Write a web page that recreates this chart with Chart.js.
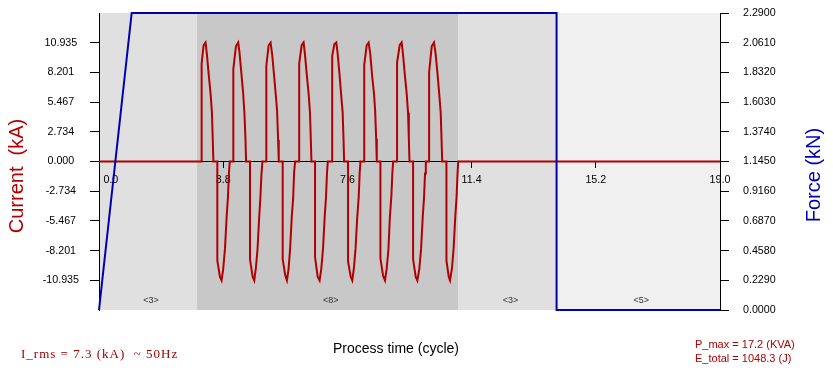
<!DOCTYPE html>
<html>
<head>
<meta charset="utf-8">
<script src="https://cdn.jsdelivr.net/npm/chart.js@4.4.1/dist/chart.umd.min.js"></script>
<style>
  html, body { margin: 0; padding: 0; background: #fff; }
</style>
</head>
<body>
<canvas id="weldChart" width="833" height="370"></canvas>
<script>
// Current trace: time in cycles, current in kA (one line per weld cycle)
const currentTime = [
  0,
  3.14, 3.14, 3.20, 3.26, 3.30, 3.36, 3.415, 3.455, 3.48, 3.50, 3.62, 3.62, 3.70, 3.75, 3.80, 3.855, 3.905, 3.945, 3.975, 4.00,
  4.11, 4.11, 4.19, 4.26, 4.30, 4.36, 4.41, 4.45, 4.48, 4.50, 4.62, 4.62, 4.70, 4.75, 4.80, 4.85, 4.90, 4.94, 4.97, 5.00,
  5.12, 5.12, 5.19, 5.25, 5.30, 5.36, 5.41, 5.45, 5.48, 5.50, 5.62, 5.62, 5.70, 5.75, 5.80, 5.85, 5.90, 5.94, 5.97, 6.00,
  6.125, 6.125, 6.20, 6.26, 6.30, 6.36, 6.415, 6.455, 6.48, 6.50, 6.61, 6.61, 6.69, 6.75, 6.80, 6.855, 6.905, 6.945, 6.975, 7.00,
  7.135, 7.135, 7.20, 7.26, 7.30, 7.36, 7.41, 7.455, 7.48, 7.50, 7.62, 7.62, 7.70, 7.75, 7.80, 7.85, 7.90, 7.945, 7.975, 8.00,
  8.115, 8.115, 8.19, 8.25, 8.30, 8.36, 8.415, 8.45, 8.48, 8.50, 8.61, 8.61, 8.69, 8.75, 8.80, 8.855, 8.90, 8.945, 8.975, 9.00,
  9.12, 9.12, 9.20, 9.26, 9.30, 9.36, 9.415, 9.455, 9.48, 9.50, 9.61, 9.61, 9.69, 9.74, 9.80, 9.855, 9.905, 9.945, 9.975, 10.00,
  10.10, 10.10, 10.18, 10.25, 10.30, 10.36, 10.41, 10.455, 10.48, 10.50, 10.63, 10.63, 10.70, 10.74, 10.80, 10.85, 10.90, 10.94, 10.97, 10.99,
  19.0
];
const currentKA = [
  0,
  0, 9.0, 10.7, 10.95, 9.9, 7.9, 6.2, 4.5, 2.1, 0, 0, -9.1, -10.6, -10.95, -9.9, -8.0, -5.1, -3.3, -1.1, 0,
  0, 8.5, 10.6, 10.95, 10.0, 8.0, 6.3, 4.4, 2.2, 0, 0, -9.0, -10.6, -10.95, -9.8, -8.1, -5.2, -3.2, -1.2, 0,
  0, 8.8, 10.7, 10.95, 9.8, 7.8, 6.1, 4.6, 2.0, 0, 0, -9.0, -10.5, -10.95, -9.9, -7.9, -5.0, -3.4, -1.0, 0,
  0, 9.0, 10.7, 10.95, 9.9, 7.9, 6.2, 4.5, 2.1, 0, 0, -8.8, -10.6, -10.95, -9.9, -8.0, -5.1, -3.3, -1.1, 0,
  0, 9.7, 10.8, 10.95, 10.0, 8.0, 6.1, 4.5, 2.2, 0, 0, -9.2, -10.6, -10.95, -9.8, -8.0, -5.2, -3.3, -1.1, 0,
  0, 8.9, 10.7, 10.95, 9.9, 7.8, 6.2, 4.6, 2.1, 0, 0, -8.9, -10.5, -10.95, -9.9, -8.1, -5.1, -3.2, -1.1, 0,
  0, 9.1, 10.7, 10.95, 9.9, 7.9, 6.2, 4.5, 2.1, 0, 0, -9.0, -10.6, -10.95, -9.9, -8.0, -5.1, -3.3, -1.1, 0,
  0, 8.2, 10.6, 10.95, 9.9, 8.0, 6.2, 4.5, 2.1, 0, 0, -9.1, -10.6, -10.95, -9.8, -8.0, -5.1, -3.3, -1.1, 0,
  0
];

// Electrode force: time in cycles, force in kN
const forceTime = [0, 1.0, 14.0, 14.0, 19.0];
const forceKN = [0, 2.29, 2.29, 0, 0];

// Weld schedule phases (in cycles) and their labels
const phaseStart = [0, 3, 11, 14];
const phaseEnd = [3, 11, 14, 19];
const phaseLabels = ['<3>', '<8>', '<3>', '<5>'];

// Axis ticks
const timeTicks = [0.0, 3.8, 7.6, 11.4, 15.2, 19.0];
const currentTicks = [10.935, 8.201, 5.467, 2.734, 0.000, -2.734, -5.467, -8.201, -10.935];
const currentLimit = 13.669;
const forceTicks = [0.0, 0.229, 0.458, 0.687, 0.916, 1.145, 1.374, 1.603, 1.832, 2.061, 2.29];
const forceLimit = 2.29;

// Summary text
const irmsText = 'I_rms = 7.3 (kA)  ~ 50Hz';
const pmaxText = 'P_max = 17.2 (KVA)';
const etotalText = 'E_total = 1048.3 (J)';

const sansFont = '"Liberation Sans", Arial, sans-serif';
const currentColor = '#b00000';
const forceColor = '#0000b0';
const bandColors = ['#e0e0e0', '#c8c8c8', '#e0e0e0', '#f0f0f0'];

// Shaded phase bands behind everything, with the cycle count near the bottom
const phaseBands = {
    id: 'phaseBands',
    beforeDraw(chart) {
        const { ctx, chartArea, scales } = chart;
        ctx.save();
        phaseStart.forEach((start, i) => {
            const x0 = scales.x.getPixelForValue(start);
            const x1 = scales.x.getPixelForValue(phaseEnd[i]);
            ctx.fillStyle = bandColors[i];
            ctx.fillRect(x0, chartArea.top, x1 - x0, chartArea.bottom - chartArea.top);
            ctx.fillStyle = '#333';
            ctx.font = '9px ' + sansFont;
            ctx.textAlign = 'center';
            ctx.textBaseline = 'middle';
            ctx.fillText(phaseLabels[i], (x0 + x1) / 2 + 3, chartArea.bottom - 9);
        });
        ctx.restore();
    }
};

// Axis titles and the summary captions under the plot
const captions = {
    id: 'captions',
    afterDraw(chart) {
        const ctx = chart.ctx;
        ctx.save();
        ctx.textBaseline = 'middle';
        ctx.textAlign = 'center';

        ctx.font = '20px ' + sansFont;
        ctx.fillStyle = currentColor;
        ctx.save();
        ctx.translate(17, 176);
        ctx.rotate(-Math.PI / 2);
        ctx.fillText('Current  (kA)', 0, 0);
        ctx.restore();

        ctx.fillStyle = forceColor;
        ctx.save();
        ctx.translate(814, 175);
        ctx.rotate(-Math.PI / 2);
        ctx.fillText('Force (kN)', 0, 0);
        ctx.restore();

        ctx.fillStyle = '#000';
        ctx.font = '14px ' + sansFont;
        ctx.fillText('Process time (cycle)', 396, 349);

        ctx.textAlign = 'left';
        ctx.fillStyle = '#a00000';
        ctx.font = '13px "Liberation Serif", "Times New Roman", serif';
        ctx.letterSpacing = '1px';
        ctx.fillText(irmsText, 21, 355);
        ctx.letterSpacing = '0px';

        ctx.fillStyle = currentColor;
        ctx.font = '11px ' + sansFont;
        ctx.fillText(pmaxText, 695, 345);
        ctx.fillText(etotalText, 695, 359);
        ctx.restore();
    }
};

// fixed side widths; label padding should not push the plot area down
function fixSide(width) {
    return scale => {
        scale.width = width;
        scale.paddingTop = 0;
        scale.paddingBottom = 0;
    };
}

const currentPoints = currentTime.map((t, i) => ({ x: t, y: currentKA[i] }));
const forcePoints = forceTime.map((t, i) => ({ x: t, y: forceKN[i] }));

const tickFont = { family: sansFont, size: 10.7 };

new Chart(document.getElementById('weldChart'), {
    type: 'line',
    data: {
        datasets: [
            {
                label: 'Force',
                data: forcePoints,
                yAxisID: 'y1',
                borderColor: forceColor,
                borderWidth: 2,
                pointRadius: 0,
                tension: 0,
                clip: false
            },
            {
                label: 'Current',
                data: currentPoints,
                yAxisID: 'y',
                borderColor: currentColor,
                borderWidth: 2,
                pointRadius: 0,
                tension: 0
            }
        ]
    },
    options: {
        responsive: false,
        animation: false,
        // the x axis sits on the zero line, so only the outer margins matter here
        layout: { padding: { top: 13, bottom: 60, left: 0, right: 0 } },
        plugins: {
            legend: { display: false },
            tooltip: { enabled: false }
        },
        scales: {
            x: {
                type: 'linear',
                min: 0,
                max: 19,
                position: { y: 0 },
                afterBuildTicks: scale => { scale.ticks = timeTicks.map(v => ({ value: v })); },
                ticks: {
                    color: '#000',
                    font: tickFont,
                    padding: 6,
                    maxRotation: 0,
                    // first label sits a bit right of the axis like the original
                    callback: v => (v === 0 ? '        ' : '') + v.toFixed(1)
                },
                grid: { drawOnChartArea: false, drawTicks: true, tickLength: 6, color: '#000' },
                border: { display: true, color: '#000', width: 1 }
            },
            y: {
                position: 'left',
                min: -currentLimit,
                max: currentLimit,
                afterBuildTicks: scale => { scale.ticks = currentTicks.map(v => ({ value: v })); },
                afterFit: fixSide(99),
                ticks: {
                    color: '#000',
                    font: tickFont,
                    padding: 11,
                    crossAlign: 'center',
                    callback: v => v.toFixed(3)
                },
                grid: { drawOnChartArea: false, drawTicks: true, tickLength: 9, color: '#000' },
                border: { display: true, color: '#000', width: 1 }
            },
            y1: {
                position: 'right',
                min: 0,
                max: forceLimit,
                afterBuildTicks: scale => { scale.ticks = forceTicks.map(v => ({ value: v })); },
                afterFit: fixSide(113),
                ticks: {
                    color: '#000',
                    font: tickFont,
                    padding: 14,
                    crossAlign: 'near',
                    callback: v => v.toFixed(4)
                },
                grid: { drawOnChartArea: false, drawTicks: true, tickLength: 9, color: '#000' },
                border: { display: true, color: '#000', width: 1 }
            }
        }
    },
    plugins: [phaseBands, captions]
});
</script>
</body>
</html>
